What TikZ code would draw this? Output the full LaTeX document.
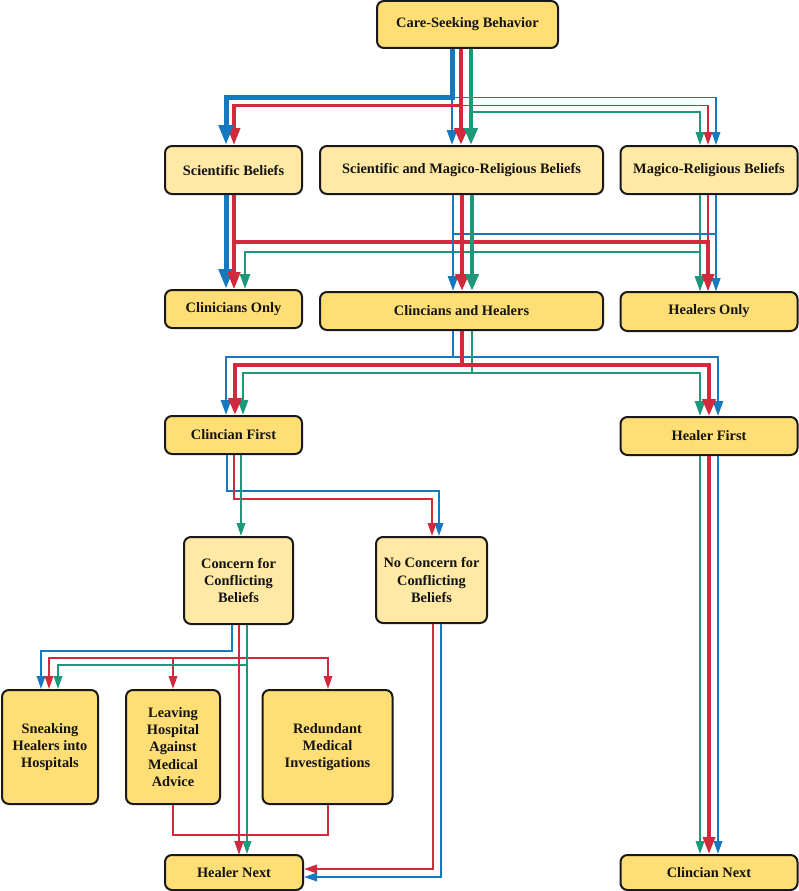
\documentclass[tikz,border=0pt]{standalone}
\usepackage{fontspec}
\setmainfont{Liberation Serif}
\usetikzlibrary{arrows.meta}
\definecolor{boxdark}{RGB}{255,222,117}
\definecolor{boxlight}{RGB}{255,233,164}
\definecolor{cblue}{RGB}{22,120,190}
\definecolor{cred}{RGB}{208,42,60}
\definecolor{cgreen}{RGB}{28,152,122}
\tikzset{
  box/.style={draw=black!90, line width=2pt, rounded corners=7pt, align=center,
    inner sep=0pt, font=\bfseries\fontsize{14.4}{17.3}\selectfont, text=black!92},
  lbox/.style={box, fill=boxlight},
  dbox/.style={box, fill=boxdark},
  cb/.style={draw=cblue},
  cr/.style={draw=cred},
  cg/.style={draw=cgreen},
  w1/.style={line width=1.9pt, -{Triangle[length=13pt,width=8.5pt]}},
  w2/.style={line width=2.6pt, -{Triangle[length=15pt,width=10pt]}},
  w3/.style={line width=3.6pt, -{Triangle[length=17pt,width=12pt]}},
  w4/.style={line width=4.4pt, -{Triangle[length=17pt,width=13pt]}},
  w5/.style={line width=5pt, -{Triangle[length=20pt,width=14pt]}},
}
\begin{document}
\begin{tikzpicture}[x=1pt,y=-1pt]
\useasboundingbox (0,0) rectangle (799,891);
% nodes
\node[dbox, minimum width=181pt, minimum height=47pt] (care) at (467.5,24.5) {Care-Seeking Behavior};
\node[lbox, minimum width=137pt, minimum height=48pt] (sb) at (233.5,170) {Scientific Beliefs};
\node[lbox, minimum width=283pt, minimum height=48pt] (smr) at (461.5,170) {Scientific and Magico-Religious Beliefs};
\node[lbox, minimum width=177pt, minimum height=48pt] (mr) at (709,170) {Magico-Religious Beliefs};
\node[dbox, minimum width=137pt, minimum height=38pt] (co) at (233.5,309) {Clinicians Only};
\node[dbox, minimum width=283pt, minimum height=38pt] (ch) at (461.5,311) {Clincians and Healers};
\node[dbox, minimum width=177pt, minimum height=39pt] (ho) at (709,311.5) {Healers Only};
\node[dbox, minimum width=137pt, minimum height=38pt] (cf) at (233.5,435) {Clincian First};
\node[dbox, minimum width=177pt, minimum height=38pt] (hf) at (709,436) {Healer First};
\node[lbox, minimum width=109pt, minimum height=87pt] (conc) at (238.5,580.5) {Concern for\\Conflicting\\Beliefs};
\node[lbox, minimum width=111pt, minimum height=86pt] (nc) at (431.5,580) {No Concern for\\Conflicting\\Beliefs};
\node[dbox, minimum width=96pt, minimum height=114pt] (sneak) at (50,747) {Sneaking\\Healers into\\Hospitals};
\node[dbox, minimum width=94pt, minimum height=114pt] (leave) at (173,747) {Leaving\\Hospital\\Against\\Medical\\Advice};
\node[dbox, minimum width=130pt, minimum height=114pt] (redun) at (327.5,747) {Redundant\\Medical\\Investigations};
\node[dbox, minimum width=138pt, minimum height=35pt] (hn) at (234,872.5) {Healer Next};
\node[dbox, minimum width=177pt, minimum height=35pt] (cn) at (709,872.5) {Clincian Next};
% Care-Seeking Behavior
\draw[cb,w1] (care.south -| 452,0) |- (716,97.5) -- (mr.north -| 716,0);
\draw[cr,w1] (care.south -| 461,0) |- (708,105.5) -- (mr.north -| 708,0);
\draw[cg,w1] (care.south -| 471,0) |- (700,112) -- (mr.north -| 700,0);
\draw[cb,w2] (care.south -| 452,0) -- (smr.north -| 452,0);
\draw[cr,w3] (care.south -| 461,0) |- (234,105.5) -- (sb.north -| 234,0);
\draw[cb,w5] (care.south -| 452,0) |- (226,97.5) -- (sb.north -| 226,0);
\draw[cr,w4] (care.south -| 461,0) -- (smr.north -| 461,0);
\draw[cg,w4] (care.south -| 471,0) -- (smr.north -| 471,0);
% Scientific Beliefs
\draw[cb,w5] (sb.south -| 226,0) -- (co.north -| 226,0);
\draw[cr,w3] (sb.south -| 234,0) -- (co.north -| 234,0);
% Magico-Religious Beliefs
\draw[cg,w1] (mr.south -| 700,0) -- (ho.north -| 700,0);
\draw[cr,w1] (mr.south -| 708,0) -- (ho.north -| 708,0);
\draw[cb,w1] (mr.south -| 716,0) -- (ho.north -| 716,0);
% Scientific and Magico-Religious Beliefs
\draw[cb,w1] (smr.south -| 453,0) |- (716,234) -- (ho.north -| 716,0);
\draw[cg,w2] (smr.south -| 472,0) |- (245,252) -- (co.north -| 245,0);
\draw[cg,w2] (smr.south -| 472,0) |- (700,252) -- (ho.north -| 700,0);
\draw[cr,w3] (smr.south -| 462,0) |- (234,242) -- (co.north -| 234,0);
\draw[cr,w3] (smr.south -| 462,0) |- (708,242) -- (ho.north -| 708,0);
\draw[cb,w2] (smr.south -| 453,0) -- (ch.north -| 453,0);
\draw[cr,w4] (smr.south -| 462,0) -- (ch.north -| 462,0);
\draw[cg,w4] (smr.south -| 472,0) -- (ch.north -| 472,0);
% Clincians and Healers
\draw[cb,w2] (ch.south -| 453,0) |- (226,357) -- (cf.north -| 226,0);
\draw[cb,w2] (ch.south -| 453,0) |- (718,357) -- (hf.north -| 718,0);
\draw[cg,w2] (ch.south -| 472,0) |- (243,373) -- (cf.north -| 243,0);
\draw[cg,w2] (ch.south -| 472,0) |- (700,373) -- (hf.north -| 700,0);
\draw[cr,w4] (ch.south -| 462,0) |- (235,365) -- (cf.north -| 235,0);
\draw[cr,w4] (ch.south -| 462,0) |- (709,365) -- (hf.north -| 709,0);
% Clincian First
\draw[cb,w1] (cf.south -| 227,0) |- (439,491) -- (nc.north -| 439,0);
\draw[cr,w1] (cf.south -| 234,0) |- (432,499) -- (nc.north -| 432,0);
\draw[cg,w1] (cf.south -| 241,0) -- (conc.north -| 241,0);
% Healer First
\draw[cg,w1] (hf.south -| 700,0) -- (cn.north -| 700,0);
\draw[cb,w1] (hf.south -| 718,0) -- (cn.north -| 718,0);
\draw[cr,w3] (hf.south -| 709,0) -- (cn.north -| 709,0);
% Concern for Conflicting Beliefs
\draw[cb,w1] (conc.south -| 232,0) |- (41,651) -- (sneak.north -| 41,0);
\draw[cr,w1] (conc.south -| 239,0) |- (49,658) -- (sneak.north -| 49,0);
\draw[cr,w1] (conc.south -| 239,0) |- (173,658) -- (leave.north -| 173,0);
\draw[cr,w1] (conc.south -| 239,0) |- (328,658) -- (redun.north -| 328,0);
\draw[cg,w1] (conc.south -| 247,0) |- (58,665) -- (sneak.north -| 58,0);
\draw[cr,w1] (conc.south -| 239,0) -- (hn.north -| 239,0);
\draw[cg,w1] (conc.south -| 247,0) -- (hn.north -| 247,0);
% Leaving / Redundant
\draw[cr,w1] (leave.south) |- (239,835) -- (hn.north -| 239,0);
\draw[cr,w1] (redun.south -| 328,0) |- (239,835) -- (hn.north -| 239,0);
% No Concern
\draw[cr,w1] (nc.south -| 433,0) |- (hn.east |- 0,869);
\draw[cb,w1] (nc.south -| 441,0) |- (hn.east |- 0,877);
\end{tikzpicture}
\end{document}
